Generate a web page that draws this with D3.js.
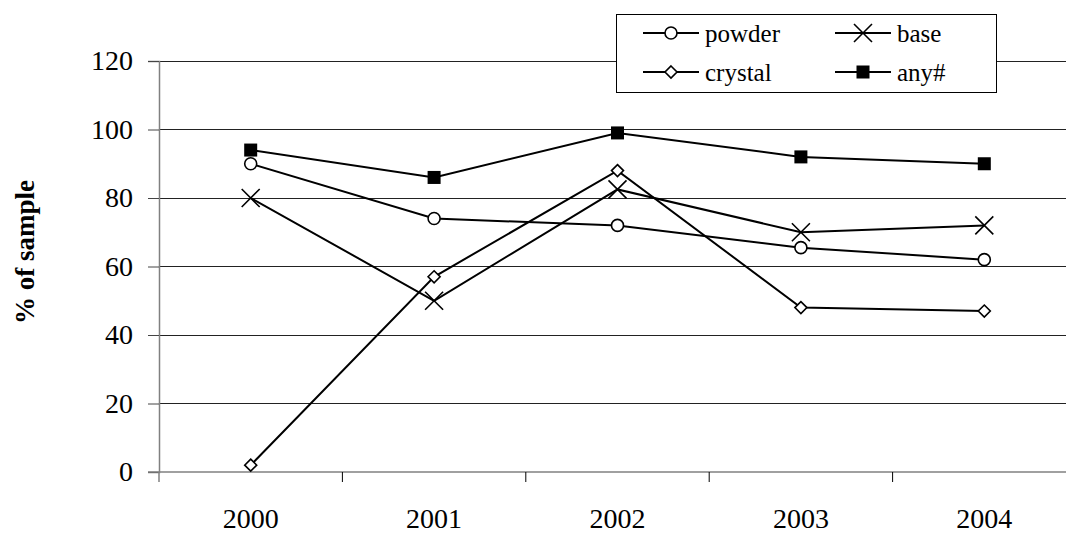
<!DOCTYPE html>
<html>
<head>
<meta charset="utf-8">
<script src="https://cdn.jsdelivr.net/npm/d3@7"></script>
<style>
  html, body { margin: 0; padding: 0; background: #fff; }
  svg { display: block; }
  svg text { font-family: "Liberation Serif", "Times New Roman", Times, Tinos, "DejaVu Serif", "Noto Serif", serif; fill: #000; }
</style>
</head>
<body>
<svg id="chart" width="1066" height="533"></svg>
<script>
// Survey years
const years = ["2000", "2001", "2002", "2003", "2004"];

// Share of samples (%) per form
const powder  = [90, 74, 72, 65.5, 62];
const base    = [80, 50, 82.5, 70, 72];
const crystal = [2, 57, 88, 48, 47];
const anyHash = [94, 86, 99, 92, 90];

const seriesNames = ["powder", "base", "crystal", "any#"];
const yTicks = [0, 20, 40, 60, 80, 100, 120];

const series = [
  { name: seriesNames[0], values: powder,  marker: "circle" },
  { name: seriesNames[1], values: base,    marker: "cross" },
  { name: seriesNames[2], values: crystal, marker: "diamond" },
  { name: seriesNames[3], values: anyHash, marker: "square" }
];

const FONT = '"Liberation Serif", "Times New Roman", Times, Tinos, "DejaVu Serif", serif';

const svg = d3.select("#chart");
const plot = { left: 159, right: 1076, top: 61, bottom: 472 };

const x = d3.scaleBand().domain(years).range([plot.left, plot.right]).padding(0);
const y = d3.scaleLinear().domain([0, 120]).range([plot.bottom, plot.top]);
const cx = d => x(d) + x.bandwidth() / 2;

// Horizontal gridlines
svg.append("g")
  .selectAll("line")
  .data(yTicks.filter(t => t > 0))
  .join("line")
  .attr("x1", plot.left).attr("x2", plot.right)
  .attr("y1", d => y(d)).attr("y2", d => y(d))
  .attr("stroke", "#222").attr("stroke-width", 1)
  .attr("shape-rendering", "crispEdges");

// Y axis
const yAxis = svg.append("g")
  .attr("transform", `translate(${plot.left},0)`)
  .call(d3.axisLeft(y).tickValues(yTicks).tickSize(11).tickPadding(15).tickFormat(d3.format("d")));
yAxis.attr("font-family", FONT);
yAxis.select(".domain").attr("stroke", "#808080").attr("stroke-width", 1.5);
yAxis.selectAll(".tick line").attr("stroke", "#444");
yAxis.selectAll("text")
  .attr("font-family", FONT)
  .style("font-size", "28px")
  .attr("fill", "#000");

// X axis: ticks sit on the band boundaries, labels centred in each band
const xAxisG = svg.append("g").attr("transform", `translate(0,${plot.bottom})`);
xAxisG.append("line")
  .attr("x1", plot.left - 11).attr("x2", plot.right)
  .attr("y1", 0).attr("y2", 0)
  .attr("stroke", "#808080").attr("stroke-width", 1.5);
const boundaries = years.map(d => x(d)).concat([plot.right]);
xAxisG.selectAll(".xtick")
  .data(boundaries)
  .join("line")
  .attr("class", "xtick")
  .attr("x1", d => d).attr("x2", d => d)
  .attr("y1", 0).attr("y2", 10)
  .attr("stroke", d => d === plot.left ? "#808080" : "#000")
  .attr("stroke-width", d => d === plot.left ? 1.5 : 1);
xAxisG.selectAll(".xlabel")
  .data(years)
  .join("text")
  .attr("class", "xlabel")
  .attr("x", d => cx(d))
  .attr("y", 56)
  .attr("text-anchor", "middle")
  .attr("font-family", FONT)
  .style("font-size", "28px")
  .text(d => d);

// Y axis title
svg.append("text")
  .attr("transform", `translate(34,252) rotate(-90)`)
  .attr("text-anchor", "middle")
  .attr("font-family", FONT)
  .style("font-size", "27px")
  .style("font-weight", "bold")
  .text("% of sample");

// Marker drawing
function drawMarker(g, type) {
  if (type === "circle") {
    g.append("circle").attr("r", 6).attr("fill", "#fff").attr("stroke", "#000").attr("stroke-width", 1.6);
  } else if (type === "cross") {
    const s = 9;
    g.append("path").attr("d", `M${-s},${-s}L${s},${s}M${-s},${s}L${s},${-s}`)
      .attr("stroke", "#000").attr("stroke-width", 1.6).attr("fill", "none");
  } else if (type === "diamond") {
    const s = 6;
    g.append("path").attr("d", `M0,${-s}L${s},0L0,${s}L${-s},0Z`)
      .attr("fill", "#fff").attr("stroke", "#000").attr("stroke-width", 1.6);
  } else if (type === "square") {
    const s = 6.5;
    g.append("rect").attr("x", -s).attr("y", -s).attr("width", 2 * s).attr("height", 2 * s).attr("fill", "#000");
  }
}

const line = d3.line().x(d => cx(d.year)).y(d => y(d.value));

series.forEach(s => {
  const pts = years.map((yr, i) => ({ year: yr, value: s.values[i] }));
  const g = svg.append("g");
  g.append("path").datum(pts).attr("d", line)
    .attr("fill", "none").attr("stroke", "#000").attr("stroke-width", 2);
  pts.forEach(p => {
    const m = g.append("g").attr("transform", `translate(${cx(p.year)},${y(p.value)})`);
    drawMarker(m, s.marker);
  });
});

// Legend
const legend = svg.append("g");
legend.append("rect")
  .attr("x", 616.5).attr("y", 14.5).attr("width", 380).attr("height", 78)
  .attr("fill", "#fff").attr("stroke", "#000").attr("stroke-width", 1);
const legendPos = [
  { col: 643, row: 33 }, { col: 835, row: 33 },
  { col: 643, row: 72 }, { col: 835, row: 72 }
];
series.forEach((s, i) => {
  const p = legendPos[i];
  const g = legend.append("g");
  g.append("line").attr("x1", p.col).attr("x2", p.col + 56)
    .attr("y1", p.row).attr("y2", p.row).attr("stroke", "#000").attr("stroke-width", 2);
  const m = g.append("g").attr("transform", `translate(${p.col + 28},${p.row})`);
  drawMarker(m, s.marker);
  g.append("text").attr("x", p.col + 62).attr("y", p.row + 9)
    .attr("font-family", FONT)
    .style("font-size", "25px").text(s.name);
});
</script>
</body>
</html>
